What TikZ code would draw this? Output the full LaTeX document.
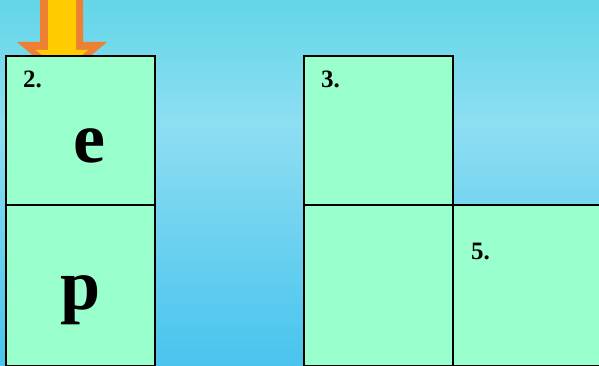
\documentclass[tikz,border=0pt]{standalone}
\usepackage{fontspec}
\setmainfont{Liberation Serif}
\definecolor{bgtop}{RGB}{86,206,198}
\definecolor{bgcyan}{RGB}{76,210,226}
\definecolor{bglight}{RGB}{142,222,242}
\definecolor{bgmid}{RGB}{78,198,238}
\definecolor{bgbot}{RGB}{62,164,224}
\definecolor{cellfill}{RGB}{153,255,204}
\definecolor{arroworange}{RGB}{238,128,52}
\definecolor{arrowyellow}{RGB}{255,204,0}
\pgfdeclareverticalshading{skybg}{100bp}{color(0bp)=(bgbot); color(28bp)=(bgmid); color(58bp)=(bglight); color(84bp)=(bgcyan); color(100bp)=(bgtop)}
\tikzset{
  cell/.style={draw=black, line width=2.8pt, fill=cellfill, rectangle, inner sep=0pt, outer sep=0pt},
  numlabel/.style={font=\bfseries\fontsize{25}{25}\selectfont, anchor=base west, inner sep=0pt},
  bigletter/.style={font=\bfseries\fontsize{72}{72}\selectfont, anchor=base, inner sep=0pt},
  arrowouter/.style={fill=arroworange},
  arrowinner/.style={fill=arrowyellow}
}
\begin{document}
\begin{tikzpicture}[x=1pt,y=-1pt]
\useasboundingbox (0,0) rectangle (599,366);
\shade[shading=skybg] (0,0) rectangle (599,366);
% arrow (behind the boxes)
\fill[arrowouter] (40,-5) -- (83,-5) -- (83,42) -- (107,42) -- (62,80) -- (17,42) -- (40,42) -- cycle;
\fill[arrowinner] (48,-5) -- (76,-5) -- (76,50) -- (88,50) -- (62,72) -- (36,50) -- (48,50) -- cycle;
% cells
\node[cell, minimum width=149pt, minimum height=149pt, anchor=north west] (c2) at (6,56) {};
\node[cell, minimum width=149pt, minimum height=161pt, anchor=north west] (c2b) at (6,205) {};
\node[cell, minimum width=149pt, minimum height=149pt, anchor=north west] (c3) at (304,56) {};
\node[cell, minimum width=149pt, minimum height=161pt, anchor=north west] (c4) at (304,205) {};
\node[cell, minimum width=160pt, minimum height=161pt, anchor=north west] (c5) at (453,205) {};
% labels
\node[numlabel] (l2) at (23,88) {2.};
\node[numlabel] (l3) at (321,88) {3.};
\node[numlabel] (l5) at (471,259) {5.};
\node[bigletter] (le) at (89,163) {e};
\node[bigletter] (lp) at (81,309) {p};
\end{tikzpicture}
\end{document}
